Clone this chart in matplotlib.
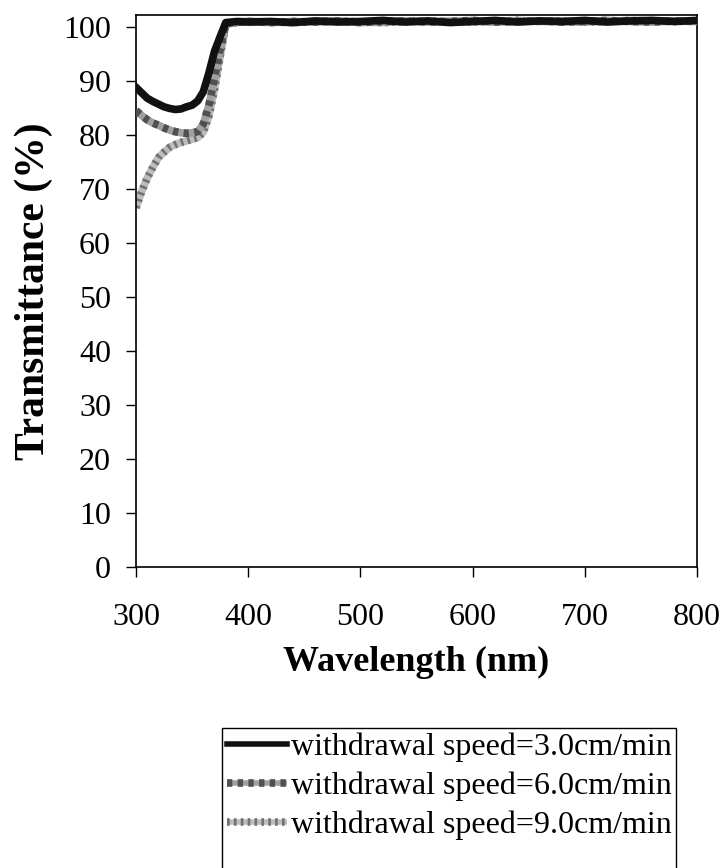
import matplotlib
matplotlib.use('Agg')
import matplotlib.pyplot as plt
from matplotlib.patches import Rectangle

plt.rcParams.update({'font.family': 'Liberation Serif', 'mathtext.fontset': 'stix'})

# wavelength grid (nm) shared by all three samples
wavelength = [300, 305, 310, 315, 320, 325, 330, 335, 340, 345, 350, 355, 360, 365, 370, 375, 380,
              390, 400, 420, 440, 460, 480, 500, 520, 540, 560, 580, 600, 620, 640, 660, 680,
              700, 720, 740, 760, 780, 800]

# transmittance (%) for each withdrawal speed
t_3cm = [88.8, 87.8, 86.8, 86.2, 85.7, 85.2, 84.9, 84.7, 84.8, 85.2, 85.5, 86.3, 88.0, 91.5, 95.5, 98.2, 100.8,
         101.0, 100.9, 101.0, 100.8, 101.1, 100.9, 101.0, 101.2, 100.9, 101.1, 100.8, 101.0, 101.2, 100.9, 101.1, 101.0,
         101.2, 100.9, 101.1, 101.2, 101.0, 101.2]
t_6cm = [84.5, 83.6, 82.8, 82.2, 81.8, 81.3, 80.9, 80.6, 80.4, 80.3, 80.4, 80.6, 82.0, 85.5, 90.5, 95.8, 100.6,
         100.9, 101.0, 100.8, 101.0, 100.9, 101.1, 100.8, 101.0, 101.1, 100.9, 101.0, 101.2, 100.9, 101.0, 101.1, 100.9,
         101.0, 101.2, 101.0, 100.9, 101.1, 101.0]
t_9cm = [66.5, 69.5, 72.0, 74.0, 75.8, 76.8, 77.7, 78.2, 78.6, 78.9, 79.2, 79.5, 80.5, 83.5, 88.5, 94.5, 100.5,
         100.8, 101.0, 100.9, 100.8, 101.0, 101.1, 100.9, 100.8, 101.0, 101.1, 101.0, 100.9, 101.0, 101.2, 101.0, 101.1,
         100.9, 101.0, 101.2, 101.1, 101.0, 101.1]

labels = ['withdrawal speed=3.0cm/min', 'withdrawal speed=6.0cm/min', 'withdrawal speed=9.0cm/min']
xticks = [300, 400, 500, 600, 700, 800]
yticks = list(range(0, 101, 10))

fig = plt.figure(figsize=(7.24, 8.68), dpi=100)
ax = fig.add_axes([136/724, 1-567/868, (697-136)/724, (567-15)/868])

lw = 5.5
# 9.0 cm/min: light grey with a fine dotted overlay
b9, = ax.plot(wavelength, t_9cm, color='#bdbdbd', lw=lw, solid_capstyle='butt', zorder=2)
o9, = ax.plot(wavelength, t_9cm, color='#727272', lw=lw, dashes=(0.35, 0.55), zorder=2.1)
# 6.0 cm/min: mid grey with darker blocks
b6, = ax.plot(wavelength, t_6cm, color='#a0a0a0', lw=lw, solid_capstyle='butt', zorder=3)
o6, = ax.plot(wavelength, t_6cm, color='#505050', lw=lw, dashes=(0.7, 0.7), zorder=3.1)
# 3.0 cm/min: solid black
l3, = ax.plot(wavelength, t_3cm, color='#111111', lw=lw, zorder=4)

ax.set_xlim(300, 800)
ax.set_ylim(0, 102.2)
ax.set_xticks(xticks)
ax.set_yticks(yticks)
ax.tick_params(axis='both', direction='out', length=7, width=1, labelsize=23)
ax.tick_params(axis='x', pad=19, top=False)
ax.tick_params(axis='y', pad=11, right=False)
for s in ax.spines.values():
    s.set_linewidth(1.2)

ax.set_xlabel('Wavelength (nm)', fontsize=26, fontweight='bold', labelpad=10)
ax.set_ylabel('Transmittance (%)', fontsize=30, fontweight='bold', labelpad=7)

leg = fig.legend([l3, (b6, o6), (b9, o9)], labels,
                 loc='upper left', bbox_to_anchor=(222/724, 1-728/868),
                 fontsize=23, frameon=False,
                 handlelength=1.9, handletextpad=0.1, borderpad=0.15, borderaxespad=0,
                 labelspacing=0.3)
for h in leg.legend_handles:
    h.set_linewidth(4)

# legend frame runs off the bottom edge of the page
fig.canvas.draw()
bb = leg.get_window_extent().transformed(fig.transFigure.inverted())
fig.add_artist(Rectangle((bb.x0, -0.02), bb.width, bb.y1 + 0.02, transform=fig.transFigure,
                         fill=False, edgecolor='black', lw=1.0))

fig.savefig('out.png', dpi=100)
